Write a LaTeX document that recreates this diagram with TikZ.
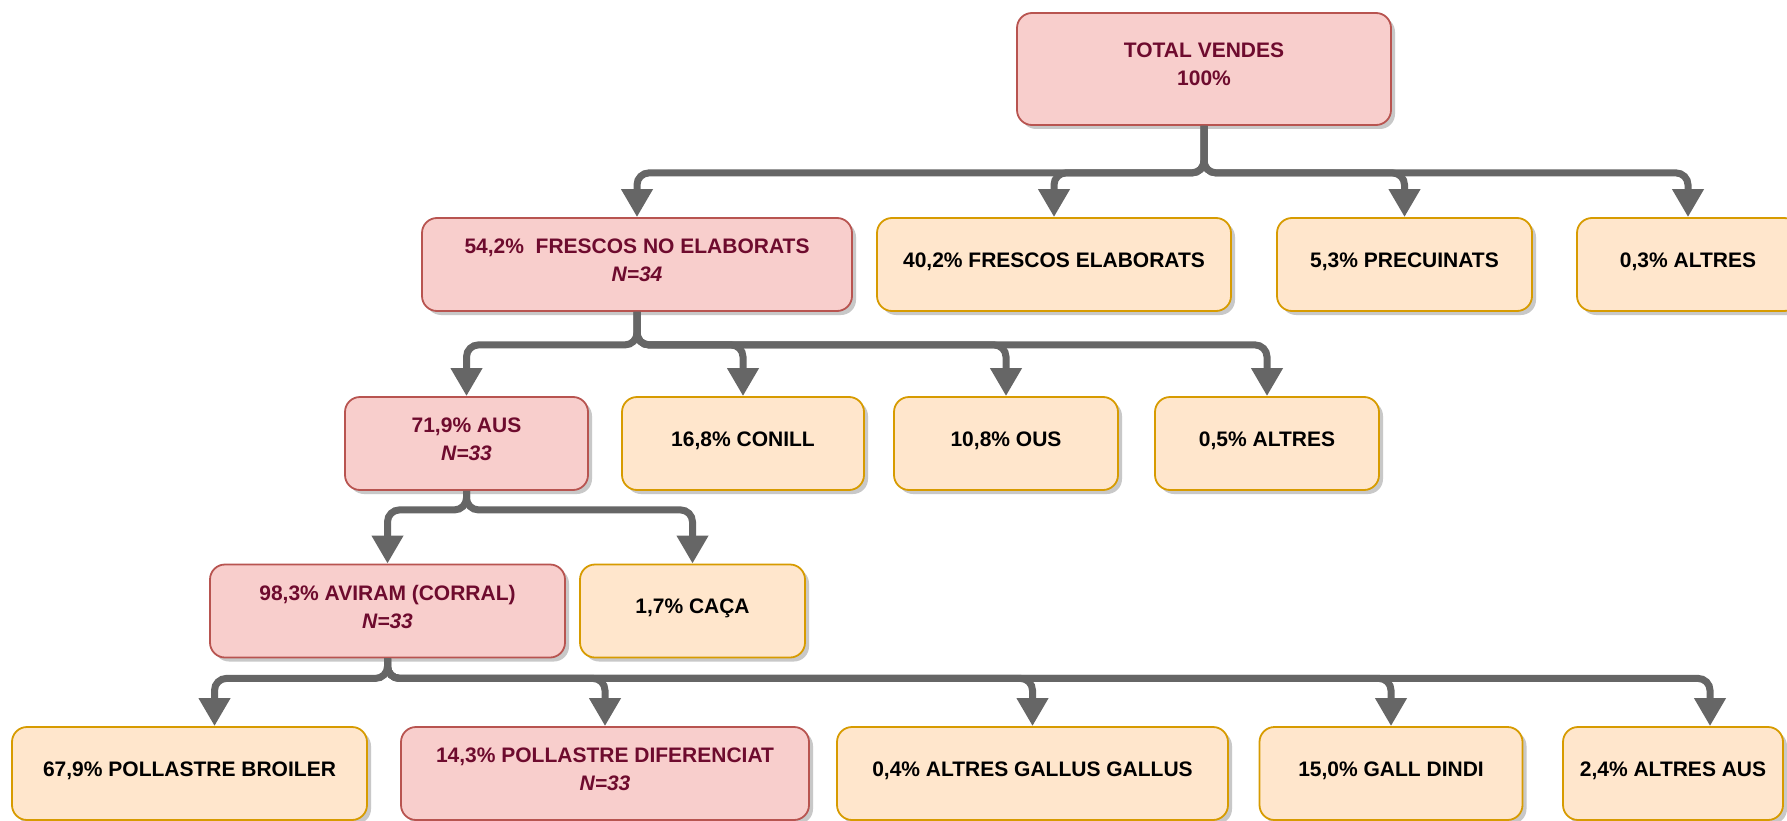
\documentclass[tikz,border=0pt]{standalone}
\usepackage{fontspec}
\setmainfont{Liberation Sans}
\usetikzlibrary{arrows.meta,shadows}

\definecolor{redfill}{HTML}{F8CECC}
\definecolor{redline}{HTML}{B85450}
\definecolor{redtext}{HTML}{6E0B2E}
\definecolor{orangefill}{HTML}{FFE6CC}
\definecolor{orangeline}{HTML}{D79B00}
\definecolor{conngray}{HTML}{666666}

\tikzset{
  box/.style={draw, line width=1.8pt, rounded corners=15pt, minimum height=93pt,
    inner sep=0pt, align=center, text depth=9pt,
    font=\fontsize{21}{28}\selectfont\bfseries,
    drop shadow={shadow xshift=4pt, shadow yshift=-4pt, opacity=0.3, fill=black!70}},
  redbox/.style={box, fill=redfill, draw=redline, text=redtext},
  orangebox/.style={box, fill=orangefill, draw=orangeline, text=black},
  conn/.style={line width=7pt, color=conngray, rounded corners=12pt,
    -{Triangle[width=30pt,length=28pt]}},
}

\begin{document}
\begin{tikzpicture}[x=1pt, y=-1pt]
    \useasboundingbox[fill=white] (0,0) rectangle (1787,821);

    % Total
    \node[redbox, minimum width=374pt, minimum height=112pt] (total) at (1204,69) {TOTAL VENDES\\100\%};

    % First level
    \node[redbox, minimum width=430pt] (fne) at (637,264.5) {54,2\%\ \ FRESCOS NO ELABORATS\\\textit{N=34}};
    \node[orangebox, minimum width=354pt] (fe) at (1054,264.5) {40,2\% FRESCOS ELABORATS};
    \node[orangebox, minimum width=255pt] (prec) at (1404.5,264.5) {5,3\% PRECUINATS};
    \node[orangebox, minimum width=222pt] (altres1) at (1688,264.5) {0,3\% ALTRES};

    % Second level
    \node[redbox, minimum width=243pt] (aus) at (466.5,443.5) {71,9\% AUS\\\textit{N=33}};
    \node[orangebox, minimum width=242pt] (conill) at (743,443.5) {16,8\% CONILL};
    \node[orangebox, minimum width=224pt] (ous) at (1006,443.5) {10,8\% OUS};
    \node[orangebox, minimum width=224pt] (altres2) at (1267,443.5) {0,5\% ALTRES};

    % Third level
    \node[redbox, minimum width=355pt] (aviram) at (387.5,611) {98,3\% AVIRAM (CORRAL)\\\textit{N=33}};
    \node[orangebox, minimum width=225pt] (caca) at (692.5,611) {1,7\% CAÇA};

    % Fourth level
    \node[orangebox, minimum width=355pt] (broiler) at (189.5,773.5) {67,9\% POLLASTRE BROILER};
    \node[redbox, minimum width=408pt] (difer) at (605,773.5) {14,3\% POLLASTRE DIFERENCIAT\\\textit{N=33}};
    \node[orangebox, minimum width=391pt] (gallus) at (1032.5,773.5) {0,4\% ALTRES GALLUS GALLUS};
    \node[orangebox, minimum width=263pt] (dindi) at (1391,773.5) {15,0\% GALL DINDI};
    \node[orangebox, minimum width=220pt] (altresaus) at (1673,773.5) {2,4\% ALTRES AUS};

    % Connectors
    \foreach \child in {fne,fe,prec,altres1}
        \draw[conn] (total.south) -- ++(0,47) -| (\child.north);
    \foreach \child in {aus,conill,ous,altres2}
        \draw[conn] (fne.south) -- ++(0,33) -| (\child.north);
    \foreach \child in {aviram,caca}
        \draw[conn] (aus.south) -- ++(0,19) -| (\child.north);
    \draw[conn] (aviram.south) -- ++(0,20) -| ([xshift=25pt]broiler.north);
    \foreach \child in {difer,gallus,dindi}
        \draw[conn] (aviram.south) -- ++(0,20) -| (\child.north);
    \draw[conn] (aviram.south) -- ++(0,20) -| ([xshift=37pt]altresaus.north);
\end{tikzpicture}
\end{document}
